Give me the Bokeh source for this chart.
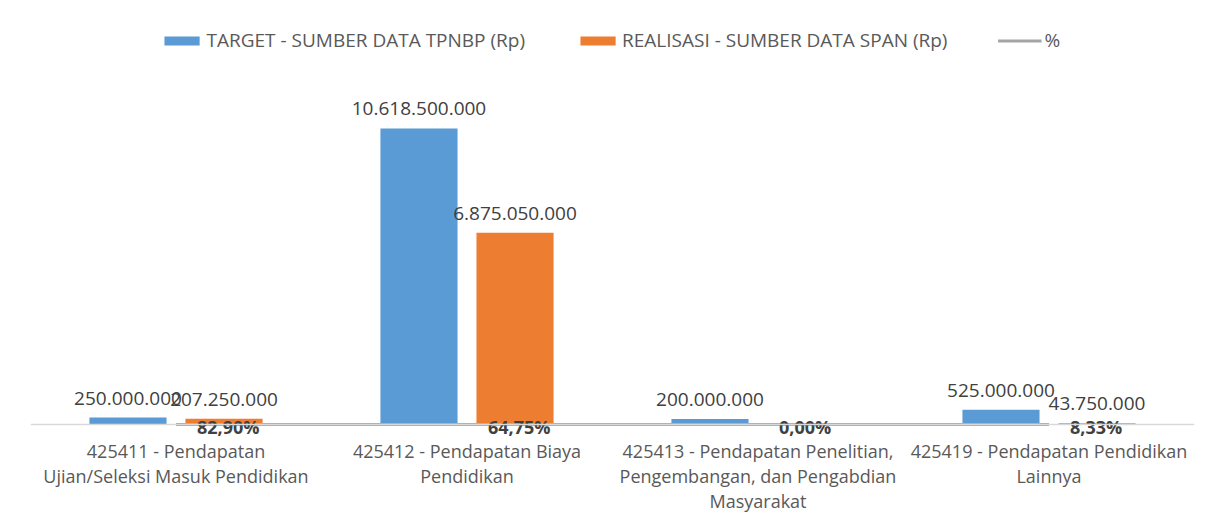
from bokeh.plotting import figure
from bokeh.models import ColumnDataSource, FactorRange, Range1d, Legend, LegendItem, Span
from bokeh.transform import dodge
from bokeh.core.properties import value
from bokeh.embed import file_html
from bokeh.resources import INLINE

codes = ["425411", "425412", "425413", "425419"]
cat_labels = [
    "425411 - Pendapatan\nUjian/Seleksi Masuk Pendidikan",
    "425412 - Pendapatan Biaya\nPendidikan",
    "425413 - Pendapatan Penelitian,\nPengembangan, dan Pengabdian\nMasyarakat",
    "425419 - Pendapatan Pendidikan\nLainnya",
]
target = [250000000, 10618500000, 200000000, 525000000]
realisasi = [207250000, 6875050000, 0, 43750000]
pct = [82.90, 64.75, 0.00, 8.33]

def fmt(v):
    return f"{v:,}".replace(",", ".")

src = ColumnDataSource(dict(
    cat=codes, label=cat_labels, target=target, realisasi=realisasi,
    pct=[v / 100 for v in pct],
    pct_txt=[f"{v:.2f}".replace(".", ",") + "%" for v in pct],
))
tsrc = ColumnDataSource(dict(cat=codes, v=target, t=[fmt(v) for v in target]))
rc = [c for c, v in zip(codes, realisasi) if v > 0]
rv = [v for v in realisasi if v > 0]
rsrc = ColumnDataSource(dict(cat=rc, v=rv, t=[fmt(v) for v in rv]))

p = figure(width=1198, height=520, output_backend="svg", toolbar_location=None,
           x_range=FactorRange(*codes, range_padding=0),
           y_range=Range1d(-3.443e9, 14.49e9))
p.min_border_left = 30
p.min_border_right = 4
p.min_border_top = 20
p.min_border_bottom = 0
p.outline_line_color = None
p.xgrid.visible = False
p.ygrid.visible = False
p.yaxis.visible = False
p.xaxis.visible = False

FONT = "Open Sans"
W = 0.265
OFF = 0.165

p.add_layout(Span(location=0, dimension="width", line_color="#d9d9d9", line_width=1.5))

rb = p.vbar(x=dodge("cat", -OFF, range=p.x_range), top="target", width=W, source=src,
            fill_color="#5b9bd5", line_color=None)
ro = p.vbar(x=dodge("cat", OFF, range=p.x_range), top="realisasi", width=W, source=src,
            fill_color="#ed7d31", line_color=None)
rl = p.line(x="cat", y="pct", source=src, line_color="#a5a5a5", line_width=3)

p.text(x=dodge("cat", -OFF, range=p.x_range), y="v", text="t", source=tsrc,
       text_align="center", text_baseline="bottom", y_offset=-13,
       text_font=value(FONT), text_font_size="19px", text_color="#404040")
p.text(x=dodge("cat", OFF, range=p.x_range), y="v", text="t", source=rsrc,
       text_align="center", text_baseline="bottom", y_offset=-13,
       text_font=value(FONT), text_font_size="19px", text_color="#404040")
p.text(x="cat", y="pct", text="pct_txt", source=src,
       text_align="left", text_baseline="middle", x_offset=21, y_offset=2,
       text_font=value(FONT), text_font_size="18px", text_font_style="bold",
       text_color="#404040")
p.text(x="cat", y=0, text="label", source=src,
       text_align="center", text_baseline="top", y_offset=14,
       text_font=value(FONT), text_font_size="18px", text_color="#595959",
       text_line_height=1.06)

legend = Legend(items=[
    LegendItem(label="TARGET - SUMBER DATA TPNBP (Rp)", renderers=[rb]),
    LegendItem(label="REALISASI - SUMBER DATA SPAN (Rp)", renderers=[ro]),
    LegendItem(label="%", renderers=[rl]),
], location="top_center", orientation="horizontal", spacing=50,
   glyph_width=44, glyph_height=11, label_standoff=3,
   label_text_font=FONT, label_text_font_size="19px", label_text_color="#595959",
   border_line_color=None, background_fill_alpha=0, margin=7, padding=0)
p.add_layout(legend)

open("out.html", "w").write(file_html(p, INLINE))
